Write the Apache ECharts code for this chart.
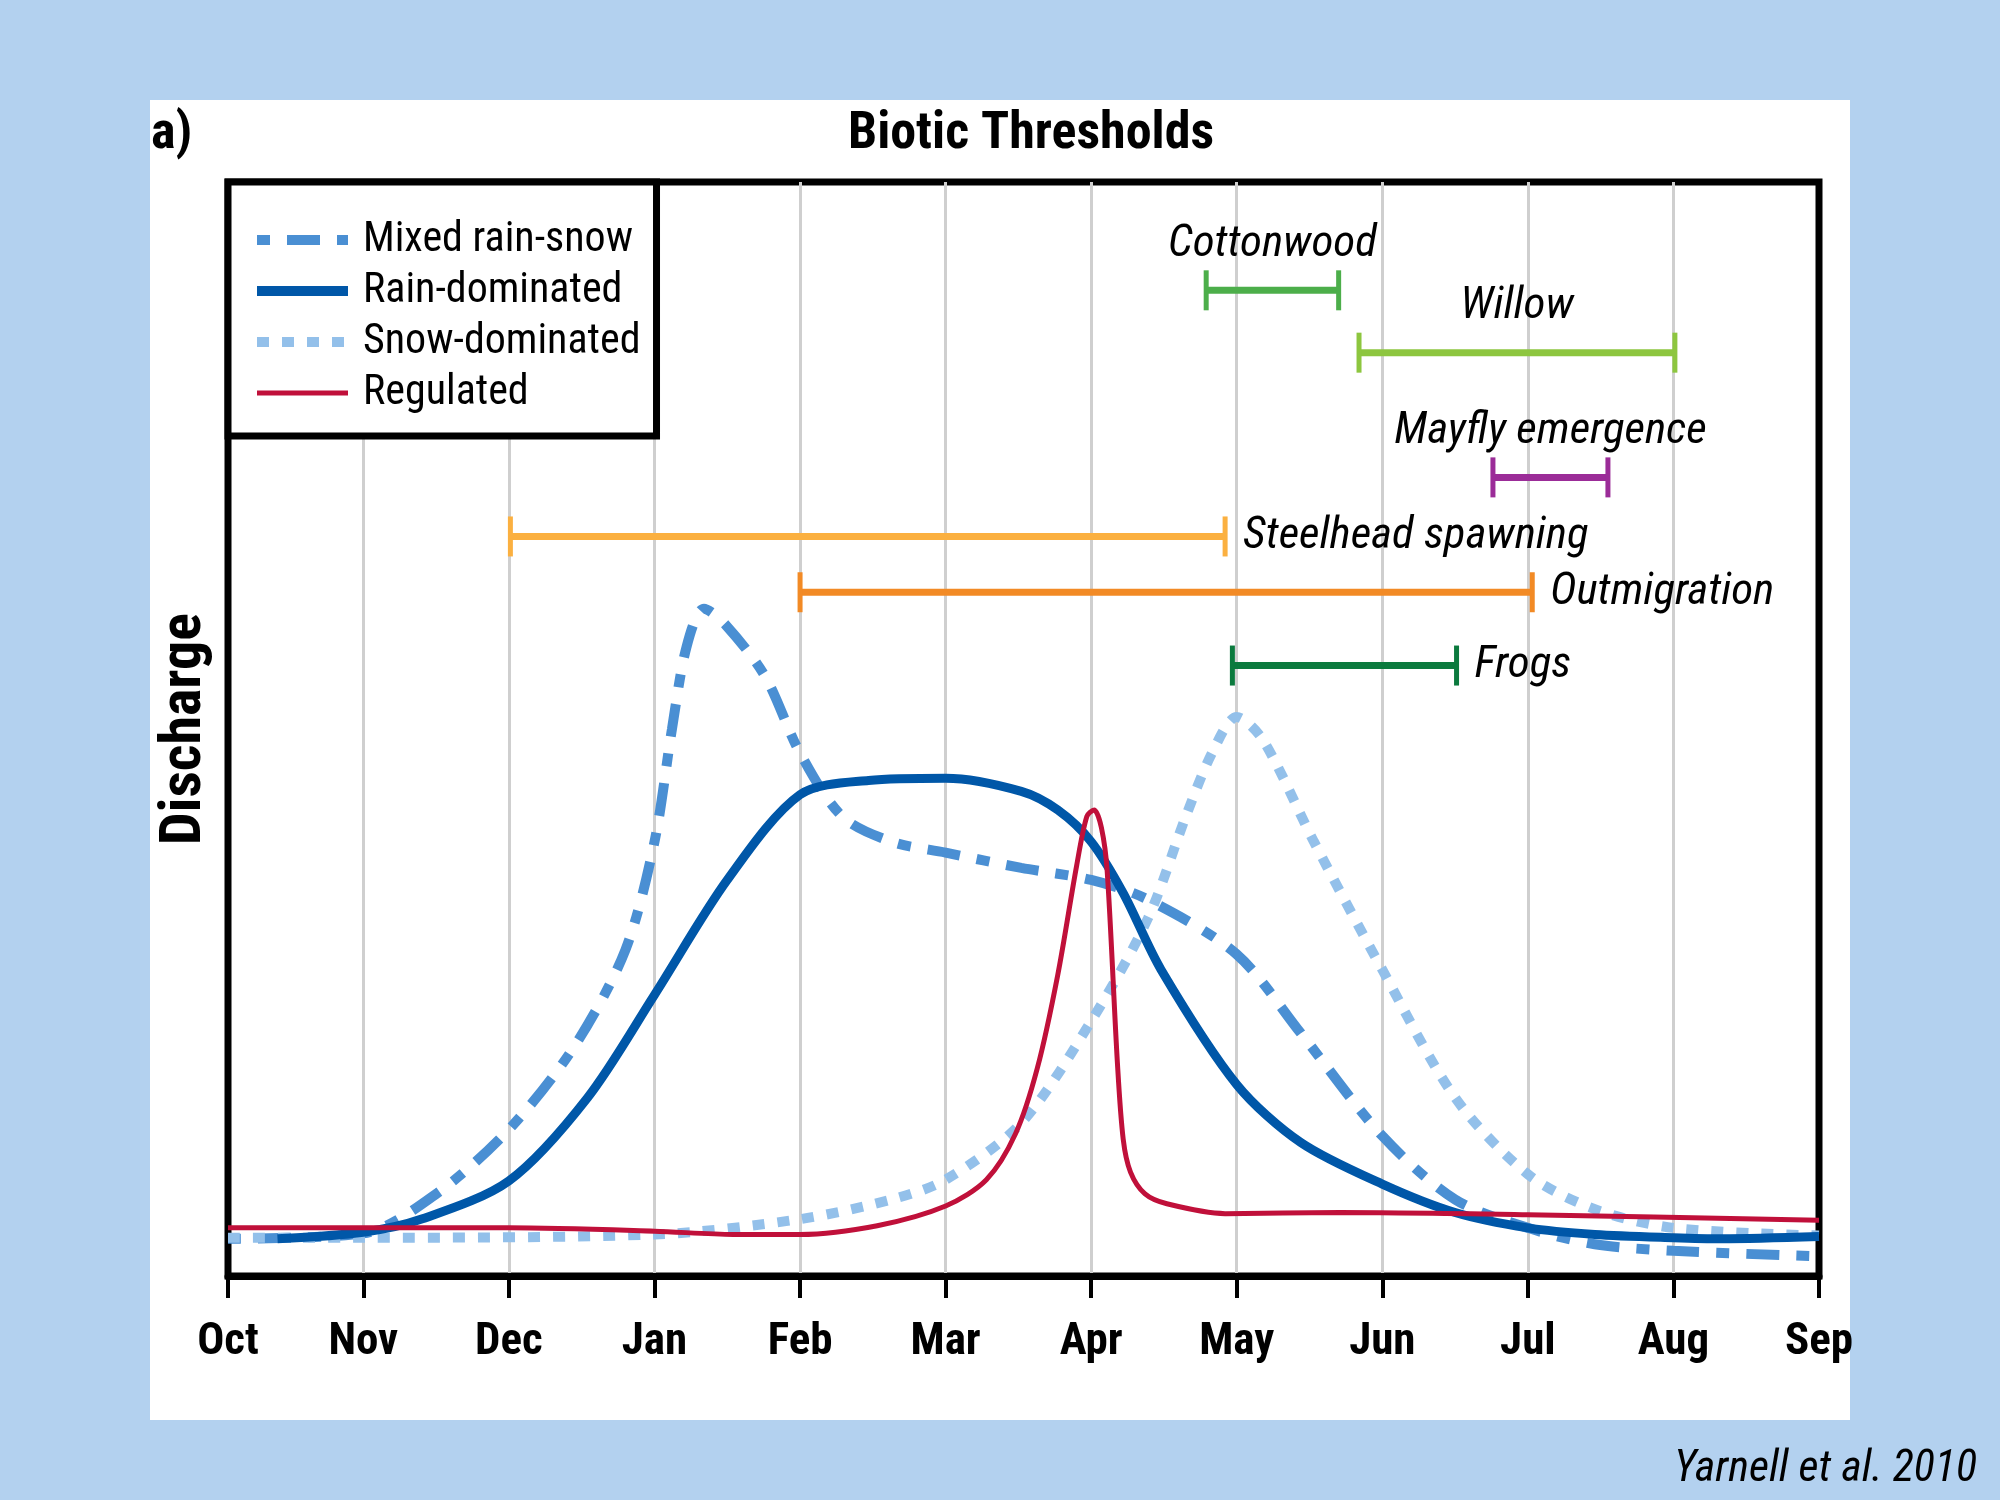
<!DOCTYPE html>
<html>
<head>
<meta charset="utf-8">
<script src="https://cdn.jsdelivr.net/npm/echarts@6/dist/echarts.min.js"></script>
<style>
  html, body { margin: 0; padding: 0; background: #b3d1ef; }
  #main { width: 2000px; height: 1500px; }
</style>
</head>
<body>
<div id="main"></div>
<script>
// month ticks (Oct sits a little closer to Nov than the other months do)
var monthLabels = ['Oct', 'Nov', 'Dec', 'Jan', 'Feb', 'Mar', 'Apr', 'May', 'Jun', 'Jul', 'Aug', 'Sep'];
var monthTicks = [0.07, 1, 2, 3, 4, 5, 6, 7, 8, 9, 10, 11];

// hydrographs, [month position, relative discharge 0-100]
var mixedRainSnow = [
  [0.07, 3.4], [1, 3.9], [1.51, 7.6], [2, 13.4], [2.45, 21], [2.8, 29.8], [3, 39.7],
  [3.12, 50], [3.22, 57.5], [3.34, 61], [3.49, 59.5], [3.76, 54.8], [4, 47.8],
  [4.29, 42], [4.63, 39.7], [5, 38.7], [5.52, 37.3], [6, 36.2], [6.39, 34.4],
  [7, 29.4], [7.44, 22.2], [8, 12.8], [8.5, 7], [9, 4.4], [9.46, 2.9],
  [10, 2.3], [11, 1.8]
];
var rainDominated = [
  [0.41, 3.4], [1, 4], [1.4, 5.2], [2, 8.7], [2.54, 16.3], [3, 25.7], [3.5, 36.2],
  [4, 44], [4.47, 45.3], [5, 45.5], [5.52, 44.3], [5.77, 42.6], [6, 39.7], [6.22, 35],
  [6.48, 28], [7, 17.5], [7.44, 12.2], [8, 8.4], [8.5, 5.8], [9, 4.4], [9.46, 3.8],
  [10, 3.5], [10.33, 3.4], [11, 3.6]
];
var snowDominated = [
  [0.07, 3.5], [1, 3.5], [3, 3.8], [4, 5.2], [4.63, 7], [5, 8.8], [5.52, 14], [6, 23.3],
  [6.39, 32.7], [6.65, 42], [6.83, 47.8], [7, 51.1], [7.18, 49], [7.53, 39.7],
  [8, 28], [8.5, 16.3], [9, 9.3], [9.46, 6.1], [10, 4.4], [11, 3.7]
];
var regulated = [
  [0.07, 4.4], [1, 4.4], [2, 4.4], [3, 4.1], [3.54, 3.8], [4, 3.8], [4.53, 4.6], [5, 6.4],
  [5.28, 8.8], [5.48, 13], [5.63, 19], [5.77, 27.5], [5.9, 37.5], [5.97, 42], [6.02, 42.6],
  [6.07, 41], [6.11, 37], [6.18, 19.5], [6.22, 12.5], [6.27, 9.5], [6.37, 7.5],
  [6.52, 6.6], [6.92, 5.7], [7.71, 5.8], [9, 5.6], [11, 5.1]
];

// biotic threshold windows
var thresholdNames = ['Cottonwood', 'Willow', 'Mayfly emergence', 'Steelhead spawning', 'Outmigration', 'Frogs'];
var thresholdStart = [6.79, 7.84, 8.76, 2.01, 4.0, 6.97];
var thresholdEnd = [7.7, 10.01, 9.55, 6.92, 9.03, 8.51];
var thresholdLevel = [90.1, 84.4, 73.0, 67.6, 62.5, 55.8];
var thresholdColors = ['#4cae4a', '#8dc63f', '#9b2c98', '#fbb040', '#f28a25', '#0b7a3e'];
var labelSide = ['top', 'top', 'top', 'right', 'right', 'right'];

var narrow = "'Liberation Sans Narrow', 'Arial Narrow', 'Roboto Condensed', Roboto, sans-serif";

var thresholdData = [];
for (var i = 0; i < thresholdNames.length; i++) {
  thresholdData.push([thresholdStart[i], thresholdEnd[i], thresholdLevel[i], i]);
}

var myChart = echarts.init(document.getElementById('main'));

var noDot = { opacity: 0, borderWidth: 0 };

var option = {
  backgroundColor: '#b3d1ef',
  animation: false,
  graphic: [
    { type: 'rect', z: -100, shape: { x: 150, y: 100, width: 1700, height: 1320 }, style: { fill: '#ffffff' } },
    { type: 'text', x: 151, y: 135, style: { text: 'a)', fill: '#000', font: 'bold 52px ' + narrow, verticalAlign: 'middle' } },
    { type: 'text', x: 1031, y: 135, style: { text: 'Biotic Thresholds', fill: '#000', font: 'bold 52px ' + narrow, align: 'center', verticalAlign: 'middle' } },
    { type: 'text', x: 1977, y: 1470, style: { text: 'Yarnell et al. 2010', fill: '#000', font: 'italic 44px ' + narrow, align: 'right', verticalAlign: 'middle' } }
  ],
  grid: {
    left: 228, right: 181, top: 182, bottom: 224,
    show: true, backgroundColor: '#fff', borderColor: '#000', borderWidth: 7
  },
  legend: {
    left: 228, top: 182, orient: 'vertical',
    padding: [35, 16, 20, 24],
    backgroundColor: '#fff', borderColor: '#000', borderWidth: 7,
    itemWidth: 91, itemHeight: 14, itemGap: 5,
    selectedMode: false,
    textStyle: { fontSize: 42, lineHeight: 46, fontFamily: narrow, color: '#000', padding: [0, 0, 0, 10] },
    data: [
      { name: 'Mixed rain-snow', lineStyle: { width: 10 }, itemStyle: noDot },
      { name: 'Rain-dominated', lineStyle: { width: 10 }, itemStyle: noDot },
      { name: 'Snow-dominated', lineStyle: { width: 10 }, itemStyle: noDot },
      { name: 'Regulated', lineStyle: { width: 5 }, itemStyle: noDot }
    ]
  },
  xAxis: {
    type: 'value', min: 0.07, max: 11,
    axisLine: { show: true, lineStyle: { color: '#000', width: 7 } },
    axisTick: { show: true, length: 22, customValues: monthTicks, lineStyle: { color: '#000', width: 4 } },
    axisLabel: {
      margin: 44, fontSize: 45, fontWeight: 'bold', fontFamily: narrow, color: '#000',
      customValues: monthTicks,
      formatter: function (v) { return monthLabels[monthTicks.indexOf(v)]; }
    },
    splitLine: { show: true, showMinLine: false, showMaxLine: false, lineStyle: { color: '#cfcfcf', width: 3 } }
  },
  yAxis: {
    type: 'value', min: 0, max: 100,
    name: 'Discharge', nameLocation: 'middle', nameRotate: 90, nameGap: 14,
    nameTextStyle: { fontSize: 58, fontWeight: 'bold', fontFamily: narrow, color: '#000' },
    axisLine: { show: false }, axisTick: { show: false }, axisLabel: { show: false },
    splitLine: { show: false }
  },
  series: [
    {
      name: 'Mixed rain-snow', type: 'line', data: mixedRainSnow,
      smooth: 0.3, symbol: 'none',
      lineStyle: { color: '#4a8fd3', width: 10, type: [13, 17, 33, 17] },
      itemStyle: { color: '#4a8fd3' }, z: 3
    },
    {
      name: 'Rain-dominated', type: 'line', data: rainDominated,
      smooth: 0.3, symbol: 'none',
      lineStyle: { color: '#0057a8', width: 9 },
      itemStyle: { color: '#0057a8' }, z: 4
    },
    {
      name: 'Snow-dominated', type: 'line', data: snowDominated,
      smooth: 0.3, symbol: 'none',
      lineStyle: { color: '#93c0ea', width: 10, type: [12, 13] },
      itemStyle: { color: '#93c0ea' }, z: 3
    },
    {
      name: 'Regulated', type: 'line', data: regulated,
      smooth: 0.3, symbol: 'none',
      lineStyle: { color: '#c0103a', width: 5 },
      itemStyle: { color: '#c0103a' }, z: 5
    },
    {
      name: 'Thresholds', type: 'custom', data: thresholdData, z: 6,
      renderItem: function (params, api) {
        var k = api.value(3);
        var a = api.coord([api.value(0), api.value(2)]);
        var b = api.coord([api.value(1), api.value(2)]);
        var col = thresholdColors[k];
        var stroke = { stroke: col, lineWidth: 7 };
        var capStroke = { stroke: col, lineWidth: 5 };
        var txt;
        if (labelSide[k] === 'top') {
          txt = { x: (a[0] + b[0]) / 2, y: a[1] - 46, align: 'center' };
        } else {
          txt = { x: b[0] + 18, y: b[1], align: 'left' };
        }
        return {
          type: 'group',
          children: [
            { type: 'line', shape: { x1: a[0], y1: a[1], x2: b[0], y2: b[1] }, style: stroke },
            { type: 'line', shape: { x1: a[0], y1: a[1] - 20, x2: a[0], y2: a[1] + 20 }, style: capStroke },
            { type: 'line', shape: { x1: b[0], y1: b[1] - 20, x2: b[0], y2: b[1] + 20 }, style: capStroke },
            {
              type: 'text',
              style: {
                x: txt.x, y: txt.y, text: thresholdNames[k], align: txt.align, verticalAlign: 'middle',
                fill: '#000', font: 'italic 45px ' + narrow
              }
            }
          ]
        };
      }
    }
  ]
};

myChart.setOption(option);
</script>
</body>
</html>
